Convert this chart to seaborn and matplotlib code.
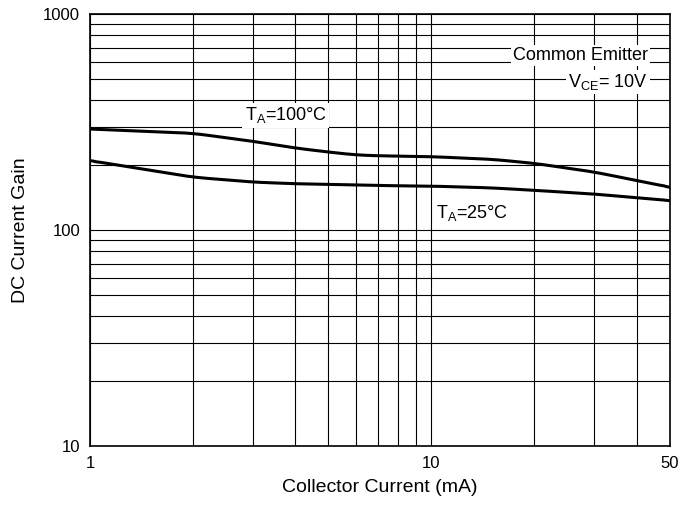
import numpy as np
import pandas as pd
import matplotlib
matplotlib.use("Agg")
import matplotlib.pyplot as plt
import seaborn as sns

# Data
current_ma = [1, 2, 3, 4, 5, 6, 7, 10, 15, 20, 30, 50]
gain_100c = [294, 281, 258, 240, 230, 223, 221, 219, 213, 204, 186, 158]
gain_25c = [210, 176, 167, 164, 163, 162, 161, 160, 157, 153, 147, 137]
x_ticks = [1, 10, 50]
x_ticklabels = ["1", "10", "50"]
y_ticks = [10, 100, 1000]
y_ticklabels = ["10", "100", "1000"]

sns.set_theme(style="white")
plt.rcParams['font.family'] = ['Liberation Sans', 'DejaVu Sans']
plt.rcParams['text.color'] = 'black'

fig = plt.figure(figsize=(6.97, 5.07), dpi=100)
ax = fig.add_axes([0.129, 0.120, 0.832, 0.852])
ax.set_xscale("log")
ax.set_yscale("log")

# smooth the curves in log space for drawing
rows = []
for t, g in (("100", gain_100c), ("25", gain_25c)):
    lx = np.log10(current_ma)
    ly = np.log10(g)
    xs = np.linspace(lx[0], lx[-1], 300)
    ys = np.interp(xs, lx, ly)
    k = 15
    ker = np.ones(k) / k
    ys_pad = np.concatenate([np.full(k, ys[0]), ys, np.full(k, ys[-1])])
    ys_s = np.convolve(ys_pad, ker, mode="same")[k:-k]
    ys_s[:3] = ys[:3]
    ys_s[-3:] = ys[-3:]
    rows.append(pd.DataFrame({"I": 10 ** xs, "G": 10 ** ys_s, "T": t}))
dfs = pd.concat(rows)

sns.lineplot(data=dfs, x="I", y="G", hue="T", palette={"100": "black", "25": "black"},
             linewidth=2.2, legend=False, ax=ax, sort=False, estimator=None)

ax.set_xlim(1, 50)
ax.set_ylim(10, 1000)
ax.grid(True, which="both", color="black", linewidth=0.8)
ax.set_axisbelow(True)
ax.set_xticks(x_ticks)
ax.set_xticklabels(x_ticklabels)
ax.set_yticks(y_ticks)
ax.set_yticklabels(y_ticklabels)
ax.xaxis.set_minor_formatter(matplotlib.ticker.NullFormatter())
ax.yaxis.set_minor_formatter(matplotlib.ticker.NullFormatter())
ax.tick_params(which="both", length=0, labelsize=12, colors="black", pad=7)
for s in ax.spines.values():
    s.set_color("black")
    s.set_linewidth(1.2)

ax.set_xlabel("Collector Current (mA)", fontsize=14, color="black", labelpad=6)
ax.set_ylabel("DC Current Gain", fontsize=14, color="black", labelpad=10)

bb = dict(facecolor="white", edgecolor="none", pad=1.5)
ax.text(0.962, 0.905, "Common Emitter", transform=ax.transAxes, ha="right", va="center",
        fontsize=13, color="black", bbox=bb)
ax.text(0.962, 0.843, r"V$_{\mathregular{CE}}$= 10V", transform=ax.transAxes, ha="right", va="center",
        fontsize=13, color="black", bbox=bb)
ax.text(2.84, 340, r"T$_{\mathregular{A}}$=100°C", ha="left", va="center", fontsize=13,
        color="black", bbox=bb)
ax.text(10.35, 120, r"T$_{\mathregular{A}}$=25°C", ha="left", va="center", fontsize=13,
        color="black", bbox=bb)

fig.savefig("out.png", dpi=100)
